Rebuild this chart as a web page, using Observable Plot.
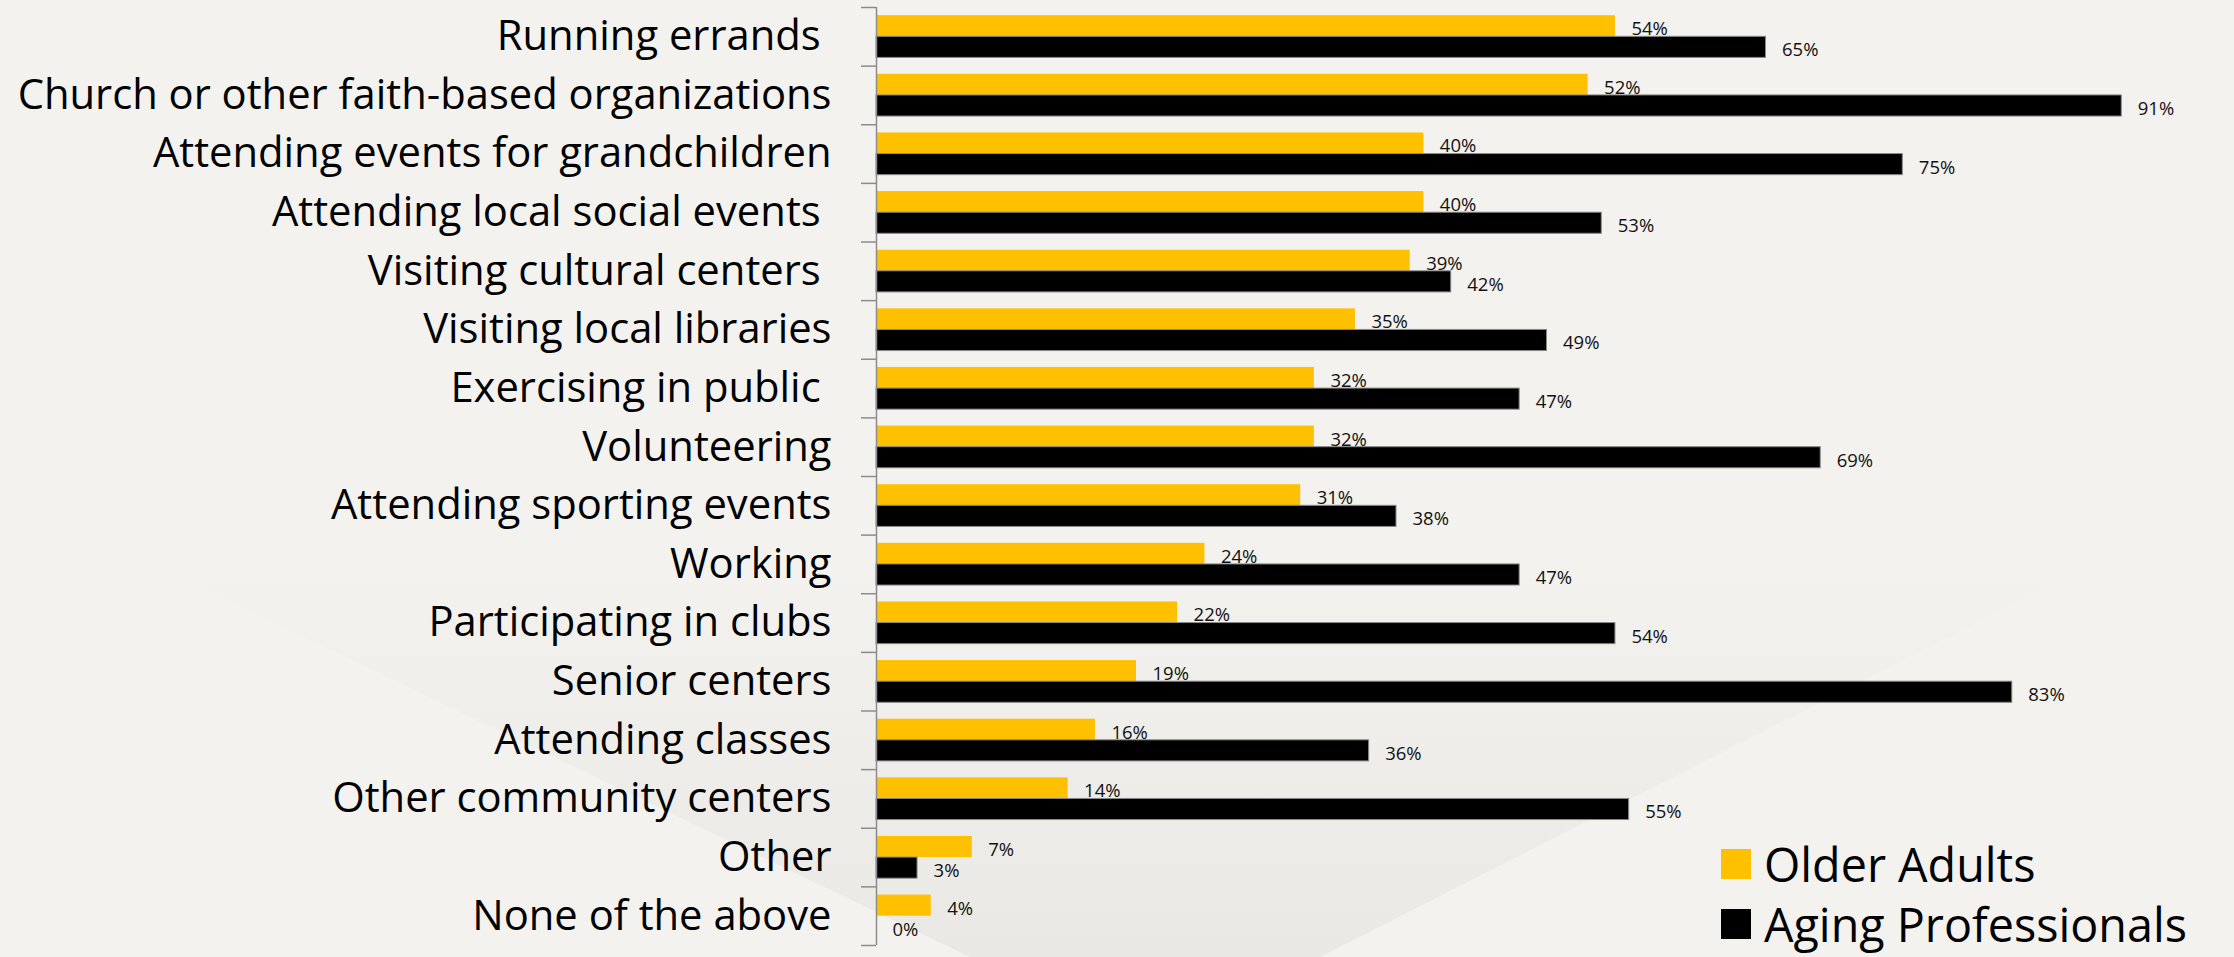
<!DOCTYPE html>
<html>
<head>
<meta charset="utf-8">
<script src="https://cdn.jsdelivr.net/npm/d3@7"></script>
<script src="https://cdn.jsdelivr.net/npm/@observablehq/plot@0.6"></script>
<style>
  html, body { margin: 0; padding: 0; background: #f3f2ee; }
  #wrap { position: relative; width: 2234px; height: 957px; overflow: hidden; }
  #bg { position: absolute; left: 0; top: 0; }
  #chart { position: absolute; left: 0; top: 0; }
  #legend { position: absolute; left: 1721px; top: 834px; font-family: "Open Sans", sans-serif; color: #000; }
  #legend .row { display: flex; align-items: center; height: 60px; white-space: nowrap; }
  #legend .row span { line-height: 1; }
  #legend .sw { width: 30px; height: 30px; margin-right: 13px; flex: none; }
</style>
</head>
<body>
<div id="wrap">
  <svg id="bg" width="2234" height="957">
    <defs>
      <linearGradient id="g" x1="0" y1="0" x2="0" y2="1">
        <stop offset="0" stop-color="#e6e5e1" stop-opacity="0"/>
        <stop offset="1" stop-color="#e6e5e1" stop-opacity="0.75"/>
      </linearGradient>
    </defs>
    <polygon points="185,580 970,957 1320,957 2100,560" fill="url(#g)"/>
  </svg>
  <div id="chart"></div>
  <div id="legend"></div>
</div>
<script>
const activities = [
  "Running errands ",
  "Church or other faith-based organizations",
  "Attending events for grandchildren",
  "Attending local social events ",
  "Visiting cultural centers ",
  "Visiting local libraries",
  "Exercising in public ",
  "Volunteering",
  "Attending sporting events",
  "Working",
  "Participating in clubs",
  "Senior centers",
  "Attending classes",
  "Other community centers",
  "Other",
  "None of the above"
];
const olderAdults = [54, 52, 40, 40, 39, 35, 32, 32, 31, 24, 22, 19, 16, 14, 7, 4];
const agingProfessionals = [65, 91, 75, 53, 42, 49, 47, 69, 38, 47, 54, 83, 36, 55, 3, 0];
const seriesNames = ["Older Adults", "Aging Professionals"];
const seriesColors = ["#FFC000", "#000000"];

const rows = activities.map((a, i) => ({activity: a, older: olderAdults[i], aging: agingProfessionals[i]}));

const W = 2234, H = 957;
const mt = 7, mb = 12, ml = 876, mr = 58;
const pInner = 0.28, pOuter = 0.14;
const step = (H - mt - mb) / activities.length;
const bw = step * (1 - pInner);

const cv = document.createElement("canvas").getContext("2d");
function fit(text, target, family, maxSize) {
  cv.font = `100px ${family}`;
  const w = cv.measureText(text).width;
  return Math.min(maxSize, 100 * target / w);
}
const catSize = fit("Church or other faith-based organizations", 814, '"Open Sans"', 46);
const legSize = fit("Aging Professionals", 423, '"Open Sans"', 54);

const fmtCat = d => d.replace(/ $/, "\u00A0");

const chart = Plot.plot({
  width: W,
  height: H,
  marginTop: mt,
  marginBottom: mb,
  marginLeft: ml,
  marginRight: mr,
  style: {fontFamily: '"Open Sans", sans-serif', background: "transparent", color: "#000"},
  x: {domain: [0, 95], axis: null},
  y: {domain: activities, paddingInner: pInner, paddingOuter: pOuter, round: false, axis: null},
  marks: [
    Plot.barX(rows, {x: "older", y: "activity", fill: seriesColors[0], insetBottom: bw / 2}),
    Plot.barX(rows, {x: "aging", y: "activity", fill: seriesColors[1], insetTop: bw / 2, stroke: "#8a8a8a", strokeWidth: 1}),
    Plot.text(rows, {x: "older", y: "activity", text: d => `${d.older}%`, dx: 16, dy: -bw / 4 + 3, textAnchor: "start", fontSize: 18.5, fill: "#111"}),
    Plot.text(rows, {x: "aging", y: "activity", text: d => `${d.aging}%`, dx: 16, dy: bw / 4 + 3, textAnchor: "start", fontSize: 18.5, fill: "#111"}),
    Plot.ruleX([0], {stroke: "#8c8c8c", strokeWidth: 1.5}),
    Plot.axisY({tickSize: 15, tickFormat: () => "", label: null, dy: -step / 2, stroke: "#8c8c8c", strokeWidth: 1.5}),
    Plot.axisY([activities[activities.length - 1]], {tickSize: 15, tickFormat: () => "", label: null, dy: step / 2, stroke: "#8c8c8c", strokeWidth: 1.5}),
    Plot.axisY({tickSize: 0, tickPadding: 45, tickFormat: fmtCat, fontSize: catSize, label: null, fill: "#000"})
  ]
});
document.getElementById("chart").appendChild(chart);

const legend = document.getElementById("legend");
legend.style.fontSize = legSize + "px";
seriesNames.forEach((n, i) => {
  const r = document.createElement("div");
  r.className = "row";
  const s = document.createElement("div");
  s.className = "sw";
  s.style.background = seriesColors[i];
  const t = document.createElement("span");
  t.textContent = n;
  r.appendChild(s); r.appendChild(t);
  legend.appendChild(r);
});
</script>
</body>
</html>
